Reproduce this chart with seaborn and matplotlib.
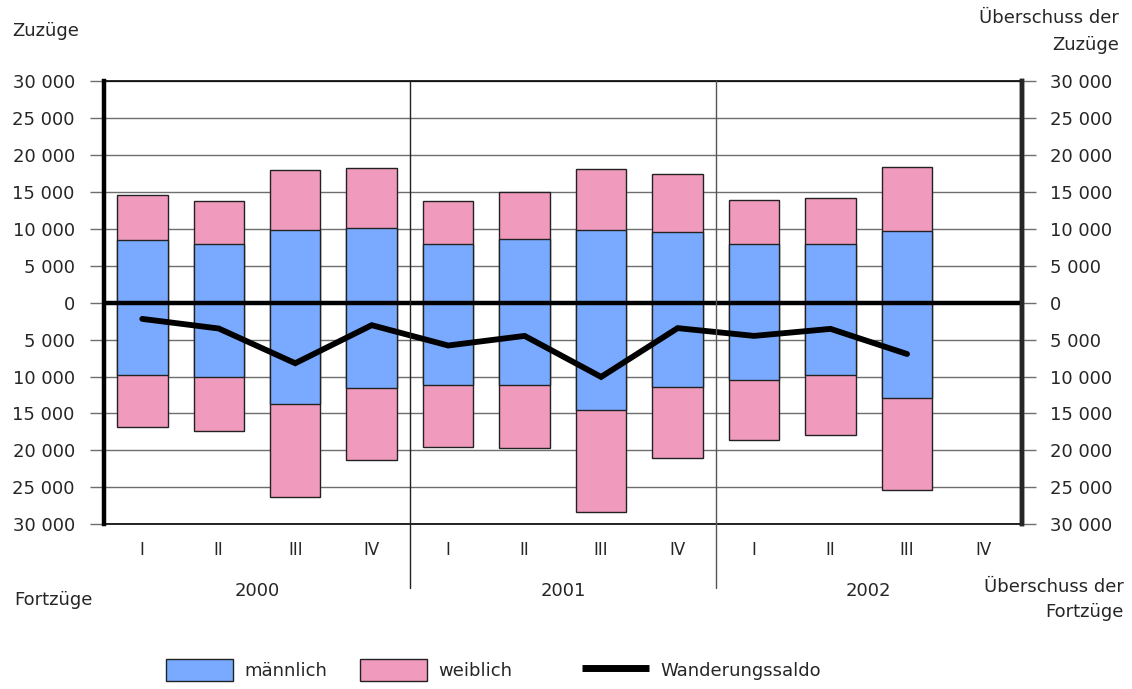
import numpy as np
import pandas as pd
import matplotlib
matplotlib.use("Agg")
import matplotlib.pyplot as plt
import matplotlib.transforms as mtransforms
from matplotlib.patches import Patch
from matplotlib.lines import Line2D
import seaborn as sns

# ---------------- data ----------------
years = ["2000", "2001", "2002"]
quarters = ["I", "II", "III", "IV"]
slots = [f"{y}-{q}" for y in years for q in quarters]
data_slots = slots[:11]  # 2002 Q IV has no data

zuzuege_maennlich = [8500, 8000, 9850, 10150, 7900, 8550, 9850, 9600, 8000, 8000, 9650]
zuzuege_weiblich = [6000, 5700, 8150, 8050, 5900, 6450, 8250, 7850, 5950, 6200, 8650]
fortzuege_maennlich = [9850, 10100, 13700, 11550, 11100, 11100, 14500, 11350, 10450, 9750, 12850]
fortzuege_weiblich = [6950, 7300, 12600, 9750, 8500, 8600, 13800, 9700, 8200, 8200, 12450]
wanderungssaldo = [-2200, -3500, -8200, -3050, -5800, -4500, -10050, -3450, -4500, -3550, -6950]

y_ticks = [30000, 25000, 20000, 15000, 10000, 5000, 0, -5000, -10000, -15000, -20000, -25000, -30000]

df = pd.DataFrame({
    "slot": data_slots,
    "zu_m": zuzuege_maennlich,
    "zu_w": zuzuege_weiblich,
    "fort_m": fortzuege_maennlich,
    "fort_w": fortzuege_weiblich,
    "saldo": wanderungssaldo,
})
df["zu_total"] = df["zu_m"] + df["zu_w"]
df["fort_total_neg"] = -(df["fort_m"] + df["fort_w"])
df["fort_m_neg"] = -df["fort_m"]
df["pos"] = [slots.index(s) for s in df["slot"]]

# ---------------- style ----------------
sns.set_style("white")
plt.rcParams["font.family"] = ["DejaVu Sans"]
FS = 13
BLUE = "#79aaff"
PINK = "#f09abd"
EDGE = "#222222"
GRID = "#6e6e6e"

fig = plt.figure(figsize=(11.32, 6.89), dpi=100)
ax = fig.add_axes([0.0919, 0.239, 0.8107, 0.6435])

bw = 0.66
kw = dict(order=slots, errorbar=None, saturation=1, width=bw, edgecolor=EDGE, linewidth=1.0, ax=ax)
sns.barplot(data=df, x="slot", y="zu_total", color=PINK, **kw)
sns.barplot(data=df, x="slot", y="zu_m", color=BLUE, **kw)
sns.barplot(data=df, x="slot", y="fort_total_neg", color=PINK, **kw)
sns.barplot(data=df, x="slot", y="fort_m_neg", color=BLUE, **kw)

ax.axhline(0, color="black", lw=3.2, zorder=4)
sns.lineplot(data=df, x="pos", y="saldo", color="black", lw=4.2, ax=ax, zorder=5,
             solid_capstyle="round", solid_joinstyle="miter")

ax.set_xlim(-0.5, 11.5)
ax.set_ylim(-30000, 30000)
ax.set_xlabel("")
ax.set_ylabel("")

# grid
ax.set_yticks(y_ticks)
ax.yaxis.grid(True, color=GRID, lw=1.0)
ax.set_axisbelow(True)
labels = [f"{abs(v):,}".replace(",", " ") for v in y_ticks]
ax.set_yticklabels(labels, fontsize=FS)
ax.tick_params(axis="y", length=10, width=1, color=GRID, pad=11)

ax.set_xticks(range(12))
ax.set_xticklabels(quarters * 3, fontsize=FS - 1)
ax.tick_params(axis="x", length=0, pad=12)

for side in ["left", "right"]:
    ax.spines[side].set_linewidth(3.2)
    ax.spines[side].set_color("black")
for side in ["top", "bottom"]:
    ax.spines[side].set_linewidth(1.2)
    ax.spines[side].set_color("black")

ax2 = ax.twinx()
ax2.set_ylim(-30000, 30000)
ax2.set_yticks(y_ticks)
ax2.set_yticklabels(labels, fontsize=FS)
ax2.tick_params(axis="y", length=10, width=1, color=GRID, pad=10)
for s in ax2.spines.values():
    s.set_visible(False)
ax2.spines["right"].set_visible(True)
ax2.spines["right"].set_linewidth(3.2)

# year separators and year labels
tr = mtransforms.blended_transform_factory(ax.transData, ax.transAxes)
for xs, c in [(3.5, "#222222"), (7.5, "#555555")]:
    ax.plot([xs, xs], [1.0, -0.143], transform=tr, color=c, lw=1.0, clip_on=False, zorder=6)
for i, y in enumerate(years):
    ax.text(4 * i + 1.5, -0.15, y, transform=tr, ha="center", va="center", fontsize=FS)

# corner labels
fig.text(12 / 1132, 1 - 31 / 689, "Zuzüge", ha="left", va="center", fontsize=FS)
fig.text(14 / 1132, 1 - 600 / 689, "Fortzüge", ha="left", va="center", fontsize=FS)
fig.text(1119 / 1132, 1 - 18 / 689, "Überschuss der", ha="right", va="center", fontsize=FS)
fig.text(1119 / 1132, 1 - 45 / 689, "Zuzüge", ha="right", va="center", fontsize=FS)
fig.text(1124 / 1132, 1 - 587 / 689, "Überschuss der", ha="right", va="center", fontsize=FS)
fig.text(1124 / 1132, 1 - 612 / 689, "Fortzüge", ha="right", va="center", fontsize=FS)

# legend (three single-entry legends placed individually)
handles = [
    (Patch(facecolor=BLUE, edgecolor=EDGE, lw=1.0, label="männlich"), 166),
    (Patch(facecolor=PINK, edgecolor=EDGE, lw=1.0, label="weiblich"), 360),
    (Line2D([0], [0], color="black", lw=5, solid_capstyle="butt", label="Wanderungssaldo"), 582),
]
for h, xpix in handles:
    fig.legend(handles=[h], loc="center left", bbox_to_anchor=(xpix / 1132, 1 - 670 / 689),
               frameon=False, fontsize=FS, handlelength=3.7, handleheight=1.45,
               handletextpad=0.65, borderpad=0, borderaxespad=0)

fig.savefig("out.png", dpi=100)
